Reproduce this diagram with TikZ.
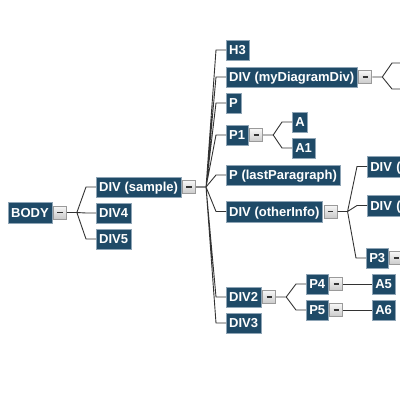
\documentclass[tikz,border=0pt]{standalone}
\usepackage{fontspec}
\setmainfont{Liberation Sans}
\usepackage{xcolor}
\usetikzlibrary{positioning}
\definecolor{boxblue}{HTML}{1F4A67}
\definecolor{boxedge}{HTML}{8FA5B6}
\definecolor{linkgray}{HTML}{333333}
\definecolor{btnedge}{HTML}{9A9A9A}
\definecolor{btntop}{HTML}{F7F7F7}
\definecolor{btnbot}{HTML}{CACACA}
\newcommand{\btnmark}{\textcolor{linkgray}{\rule{5.5pt}{1.7pt}}}

\begin{document}
\begin{tikzpicture}[x=1pt,y=-1pt,
    elem/.style={anchor=west,fill=boxblue,draw=boxedge,line width=0.5pt,text=white,font=\fontsize{13}{13}\selectfont\bfseries,minimum height=20.5pt,inner xsep=3pt,inner ysep=0pt,text height=9.3pt,text depth=0pt},
    btn/.style={draw=btnedge,line width=0.8pt,top color=btntop,bottom color=btnbot,minimum size=13pt,inner sep=0pt},
    link/.style={draw=linkgray,line width=0.9pt,to path={-- ++(10pt,0) -- ([xshift=-10pt]\tikztotarget) -- (\tikztotarget)}}
]
\useasboundingbox (0,0) rectangle (400,400);
\clip (0,0) rectangle (400,400);

\node[elem] (BODY) at (8,212.5) {BODY};
\node[elem] (DS) at (96,187) {DIV (sample)};
\node[elem] (DIV4) at (96,213) {DIV4};
\node[elem] (DIV5) at (96,239) {DIV5};
\node[elem] (H3) at (226,50) {H3};
\node[elem] (MDD) at (226,77) {DIV (myDiagramDiv)};
\node[elem] (P) at (226,103) {P};
\node[elem] (P1) at (226,135) {P1};
\node[elem] (A) at (292,122) {A};
\node[elem] (A1) at (292,148) {A1};
\node[elem] (PL) at (226,175) {P (lastParagraph)};
\node[elem] (OI) at (226,211.5) {DIV (otherInfo)};
\node[elem,text width=40pt,align=left] (DT) at (367,166.5) {DIV (t};
\node[elem,text width=40pt,align=left] (DX) at (367,205.5) {DIV (};
\node[elem] (P3) at (366,258) {P3};
\node[elem] (DIV2) at (226,297) {DIV2};
\node[elem] (DIV3) at (226,323) {DIV3};
\node[elem] (P4) at (306,284) {P4};
\node[elem] (P5) at (306,310) {P5};
\node[elem] (A5) at (372,284) {A5};
\node[elem] (A6) at (372,310) {A6};
\coordinate (mdA) at (402,63);
\coordinate (mdB) at (402,89);

% expand buttons
\node[btn,right=1pt of BODY] (BODYb) {\btnmark};
\node[btn,right=1pt of DS] (DSb) {\btnmark};
\node[btn,right=1pt of MDD] (MDDb) {\btnmark};
\node[btn,right=1pt of P1] (P1b) {\btnmark};
\node[btn,right=1pt of OI] (OIb) {\btnmark};
\node[btn,right=1pt of P3] (P3b) {\btnmark};
\node[btn,right=1pt of DIV2] (DIV2b) {\btnmark};
\node[btn,right=1pt of P4] (P4b) {\btnmark};
\node[btn,right=1pt of P5] (P5b) {\btnmark};

% tree links
\draw[link] (BODYb.east) to (DS.west) (BODYb.east) to (DIV4.west) (BODYb.east) to (DIV5.west);
\draw[link] (DSb.east) to (H3.west) (DSb.east) to (MDD.west) (DSb.east) to (P.west) (DSb.east) to (P1.west);
\draw[link] (DSb.east) to (PL.west) (DSb.east) to (OI.west) (DSb.east) to (DIV2.west) (DSb.east) to (DIV3.west);
\draw[link] (MDDb.east) to (mdA) (MDDb.east) to (mdB);
\draw[link] (P1b.east) to (A.west) (P1b.east) to (A1.west);
\draw[link] (OIb.east) to (DT.west) (OIb.east) to (DX.west) (OIb.east) to (P3.west);
\draw[link] (DIV2b.east) to (P4.west) (DIV2b.east) to (P5.west);
\draw[draw=linkgray,line width=0.9pt] (P4b.east) -- (A5.west);
\draw[draw=linkgray,line width=0.9pt] (P5b.east) -- (A6.west);
\end{tikzpicture}
\end{document}
